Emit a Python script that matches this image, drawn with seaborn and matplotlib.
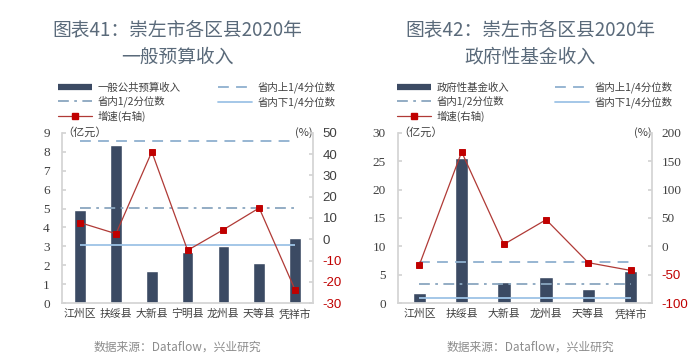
import matplotlib
matplotlib.use("Agg")
import matplotlib.pyplot as plt
import numpy as np
import pandas as pd
import seaborn as sns
from matplotlib.lines import Line2D

# 图表41: 一般预算收入
gen_counties = ["江州区", "扶绥县", "大新县", "宁明县", "龙州县", "天等县", "凭祥市"]
gen_income = [4.9, 8.35, 1.68, 2.7, 3.04, 2.12, 3.46]
gen_growth = [7.8, 2.6, 41.1, -5.2, 4.5, 14.7, -23.7]
gen_quartiles = [8.57, 5.04, 3.07]  # 上1/4, 1/2, 下1/4

# 图表42: 政府性基金收入
fund_counties = ["江州区", "扶绥县", "大新县", "龙州县", "天等县", "凭祥市"]
fund_income = [1.76, 25.5, 3.8, 4.6, 2.5, 5.6]
fund_growth = [-32.4, 166.5, 3.5, 47.0, -28.8, -42.4]
fund_quartiles = [7.24, 3.4, 0.88]

BAR = "#3b4a63"
RED = "#c00000"
LINE = "#b03a36"
Q_UP = "#8fb0cf"
Q_MID = "#8aa6bf"
Q_LOW = "#9dc3e6"
SPINE = "#d4d4d4"
TITLE = "#5a6a7a"
TXT = "#404040"

sns.set_theme(style="white")
plt.rcParams["font.family"] = ["Noto Sans CJK SC", "DejaVu Sans"]
plt.rcParams["axes.unicode_minus"] = False

fig = plt.figure(figsize=(7, 3.63), dpi=100)
fig.patch.set_facecolor("white")


def draw(rect, counties, income, growth, quartiles, left_ticks, right_ticks,
         bar_label, title, legend_box, title_x, right_serif):
    ax = fig.add_axes(rect)
    df = pd.DataFrame({"county": counties, "income": income, "growth": growth})
    n = len(counties)
    sns.barplot(data=df, x="county", y="income", color=BAR, saturation=1,
                width=0.32, ax=ax, zorder=2)
    q_up, q_mid, q_low = quartiles
    ax.hlines(q_up, 0, n - 1, colors=Q_UP, linestyles=(0, (6, 4)), lw=1.3, zorder=3)
    ax.hlines(q_mid, 0, n - 1, colors=Q_MID, linestyles=(0, (6, 3, 1.5, 3)), lw=1.3, zorder=3)
    ax.hlines(q_low, 0, n - 1, colors=Q_LOW, lw=1.3, zorder=3)

    ax2 = ax.twinx()
    sns.pointplot(data=df, x="county", y="growth", color=RED, markers="s",
                  errorbar=None, ax=ax2, markersize=5, linewidth=0.9)
    for ln in ax2.lines:
        ln.set_color(LINE)
        ln.set_markerfacecolor(RED)
        ln.set_markeredgecolor(RED)

    ax.set_xlim(-0.5, n - 0.5)
    ax.set_ylim(left_ticks[0], left_ticks[-1])
    ax.set_yticks(left_ticks)
    ax2.set_ylim(right_ticks[0], right_ticks[-1])
    ax2.set_yticks(right_ticks)
    ax.set_xlabel("")
    ax.set_ylabel("")
    ax2.set_xlabel("")
    ax2.set_ylabel("")

    for s in ["top", "right"]:
        ax.spines[s].set_visible(False)
    for s in ["top", "left", "bottom"]:
        ax2.spines[s].set_visible(False)
    for s in ["left", "bottom"]:
        ax.spines[s].set_color(SPINE)
    ax2.spines["right"].set_color(SPINE)

    ax.set_xticks(np.arange(n) + 0.5, minor=True)
    ax.tick_params(axis="x", which="major", length=0, pad=4, labelsize=7.8, labelcolor=TXT)
    ax.tick_params(axis="x", which="minor", direction="in", length=3, color=SPINE)
    ax.tick_params(axis="y", direction="in", length=3, color=SPINE, pad=9,
                   labelsize=9.5, labelcolor=TXT, left=True)
    ax2.tick_params(axis="y", direction="in", length=3, color=SPINE, pad=7,
                    labelsize=9.5, labelcolor=TXT, right=True)
    for lbl in ax.get_yticklabels():
        lbl.set_fontfamily("Liberation Serif")
    for lbl, v in zip(ax2.get_yticklabels(), right_ticks):
        if v < 0:
            lbl.set_color(RED)
            lbl.set_fontfamily("Liberation Sans")
        else:
            lbl.set_fontfamily("Liberation Serif" if right_serif else "Liberation Sans")
    ax.grid(False)
    ax2.grid(False)

    ax.text(0.0, 1.0, "（亿元）", transform=ax.transAxes, ha="left", va="center",
            fontsize=8, color=TXT)
    ax.text(1.0, 1.0, "(%)", transform=ax.transAxes, ha="right", va="center",
            fontsize=8, color=TXT)

    fig.text(title_x, 0.917, title[0], ha="center", va="center", fontsize=13.5,
             color=TITLE, fontweight="medium")
    fig.text(title_x, 0.843, title[1], ha="center", va="center", fontsize=13.5,
             color=TITLE, fontweight="medium")

    handles = [
        Line2D([], [], color=BAR, lw=4.5, solid_capstyle="butt"),
        Line2D([], [], color=Q_MID, lw=1.3, ls=(0, (6, 3, 1.5, 3))),
        Line2D([], [], color=LINE, lw=0.9, marker="s", mfc=RED, mec=RED, ms=5),
        Line2D([], [], color=Q_UP, lw=1.3, ls=(0, (6, 4))),
        Line2D([], [], color=Q_LOW, lw=1.3),
    ]
    labels = [bar_label, "省内1/2分位数", "增速(右轴)", "省内上1/4分位数", "省内下1/4分位数"]
    leg = fig.legend(handles, labels, ncol=2, loc="upper left", bbox_to_anchor=legend_box,
                     mode="expand", frameon=False, fontsize=7.5, handlelength=3.3,
                     handletextpad=0.5, labelspacing=0.3, borderpad=0, borderaxespad=0)
    for t in leg.get_texts():
        t.set_color(TXT)

    fig.text(title_x, 0.044, "数据来源：Dataflow，兴业研究", ha="center", va="center",
             fontsize=8.5, color="#8c8c8c")
    return ax, ax2


draw([0.089, 0.165, 0.358, 0.469], gen_counties, gen_income, gen_growth, gen_quartiles,
     list(range(0, 10)), list(range(-30, 51, 10)), "一般公共预算收入",
     ["图表41：崇左市各区县2020年", "一般预算收入"], (0.083, 0.675, 0.396, 0.1), 0.253, False)
draw([0.569, 0.165, 0.362, 0.469], fund_counties, fund_income, fund_growth, fund_quartiles,
     list(range(0, 31, 5)), list(range(-100, 201, 50)), "政府性基金收入",
     ["图表42：崇左市各区县2020年", "政府性基金收入"], (0.567, 0.675, 0.394, 0.1), 0.757, True)

fig.savefig("out.png", dpi=100, facecolor="white")
